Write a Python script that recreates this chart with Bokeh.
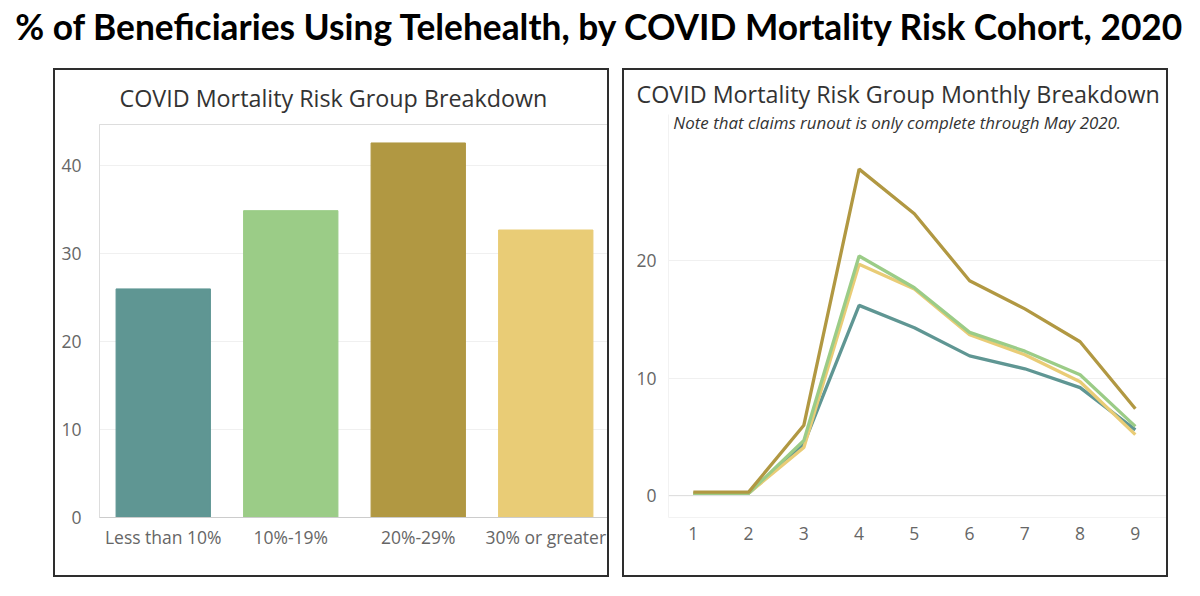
from bokeh.plotting import figure
from bokeh.models import ColumnDataSource, Range1d, FactorRange, FixedTicker, Span, Label
from bokeh.layouts import column, row
from bokeh.embed import file_html
from bokeh.resources import INLINE
from bokeh.core.properties import value

# ---- data ----
groups = ["Less than 10%", "10%-19%", "20%-29%", "30% or greater"]
pct_using = [26.0, 34.9, 42.6, 32.7]

months = [1, 2, 3, 4, 5, 6, 7, 8, 9]
lt10 = [0.2, 0.2, 4.4, 16.2, 14.3, 11.9, 10.8, 9.2, 5.6]
g10_19 = [0.2, 0.2, 4.7, 20.4, 17.7, 13.9, 12.3, 10.3, 5.9]
g20_29 = [0.3, 0.3, 6.0, 27.8, 24.0, 18.3, 15.9, 13.1, 7.4]
g30 = [0.2, 0.2, 4.1, 19.7, 17.6, 13.7, 12.0, 9.7, 5.2]

main_title = "% of Beneficiaries Using Telehealth, by COVID Mortality Risk Cohort, 2020"
left_title = "COVID Mortality Risk Group Breakdown"
right_title = "COVID Mortality Risk Group Monthly Breakdown"
right_note = "Note that claims runout is only complete through May 2020."

colors = ["#5f9693", "#9bcc87", "#b19842", "#e9cc76"]
FONT = "Open Sans"
TICK_COLOR = "#666666"
TICK_SIZE = "17.5px"
BOX = {"border": "2px solid #2e2e2e", "box-sizing": "border-box"}

# ---- header ----
hdr = figure(width=1184, height=68, x_range=Range1d(0, 1184), y_range=Range1d(0, 68),
             output_backend="svg", toolbar_location=None, min_border=0,
             x_axis_location=None, y_axis_location=None)
hdr.outline_line_color = None
hdr.grid.visible = False
hdr.text(x=[600], y=[42], text=[main_title], text_align="center", text_baseline="middle",
         text_font=value("Lato"), text_font_style="bold", text_font_size="35.3px",
         text_color="#000000")


def style_axes(p, label_standoff_x, label_standoff_y):
    for ax in (p.xaxis[0], p.yaxis[0]):
        ax.major_tick_line_color = None
        ax.minor_tick_line_color = None
        ax.major_label_text_font = FONT
        ax.major_label_text_font_size = TICK_SIZE
        ax.major_label_text_color = TICK_COLOR
    p.xaxis.major_label_standoff = label_standoff_x
    p.yaxis.major_label_standoff = label_standoff_y


def style_title(p, text, offset, standoff):
    p.title.text = text
    p.title.text_font = FONT
    p.title.text_font_style = "normal"
    p.title.text_font_size = "23.3px"
    p.title.text_color = "#333333"
    p.title.align = "left"
    p.title.vertical_align = "middle"
    p.title.offset = offset
    p.title.standoff = standoff


# ---- left panel: bars ----
p1 = figure(width=556, height=509, x_range=FactorRange(*groups), y_range=Range1d(0, 44.7),
            output_backend="svg", toolbar_location=None,
            min_border_left=44, min_border_right=2, min_border_top=54, min_border_bottom=62)
p1.styles = BOX
src = ColumnDataSource(dict(g=groups, v=pct_using, c=colors))
p1.vbar(x="g", top="v", width=0.74, color="c", source=src)
style_title(p1, left_title, 20, 19)
p1.outline_line_color = "#dddddd"
p1.xgrid.visible = False
p1.ygrid.grid_line_color = "#f0f0f0"
p1.yaxis.ticker = FixedTicker(ticks=[0, 10, 20, 30, 40])
style_axes(p1, 1, 12)
p1.xaxis.axis_line_color = "#cccccc"
p1.yaxis.axis_line_color = "#dddddd"

# ---- right panel: lines ----
p2 = figure(width=546, height=509, x_range=Range1d(0.55, 9.6), y_range=Range1d(-1.86, 32.45),
            output_backend="svg", toolbar_location=None,
            min_border_left=44, min_border_right=2, min_border_top=44, min_border_bottom=62)
p2.styles = BOX
series = [lt10, g30, g10_19, g20_29]
series_colors = [colors[0], colors[3], colors[1], colors[2]]
for ys, col in zip(series, series_colors):
    p2.line(months, ys, line_color=col, line_width=3.3)
style_title(p2, right_title, -32, 7)
p2.add_layout(Label(x=4.69, y=31.77, text=right_note, text_align="center",
                    text_baseline="middle", text_font=FONT, text_font_style="italic",
                    text_font_size="16.9px", text_color="#333333"))
p2.outline_line_color = None
p2.xgrid.visible = False
p2.ygrid.grid_line_color = "#f0f0f0"
p2.xaxis.ticker = FixedTicker(ticks=months)
p2.yaxis.ticker = FixedTicker(ticks=[0, 10, 20])
style_axes(p2, 3, 6)
p2.xaxis.axis_line_color = "#f2f2f2"
p2.yaxis.axis_line_color = "#f2f2f2"
p2.add_layout(Span(location=0, dimension="width", line_color="#dddddd", line_width=1))

layout = column(hdr, row(column(p1), column(p2), spacing=13, margin=(0, 0, 0, 53)),
                spacing=0)
open("out.html", "w").write(file_html(layout, INLINE))
